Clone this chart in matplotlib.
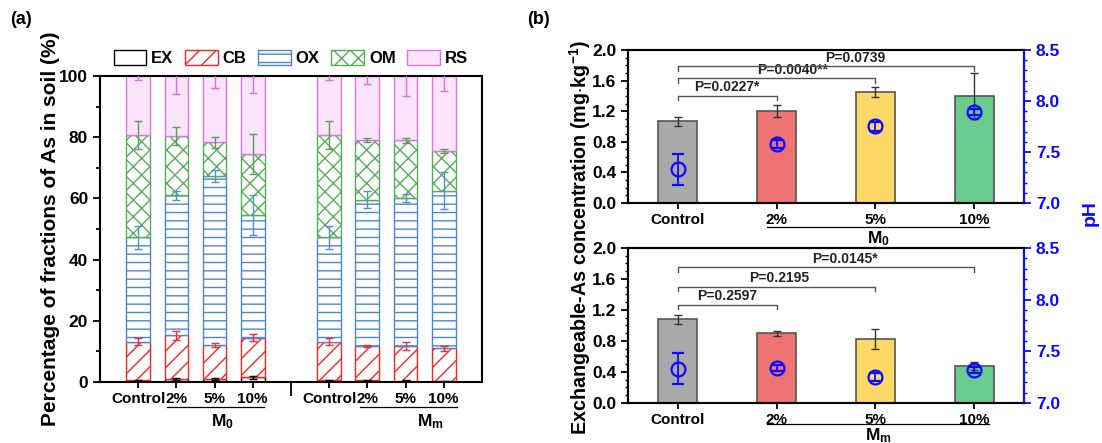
import numpy as np
import matplotlib
matplotlib.use('Agg')
import matplotlib.pyplot as plt
from matplotlib.patches import Patch
from matplotlib.ticker import MultipleLocator, FixedLocator

plt.rcParams['font.family'] = ['Liberation Sans', 'DejaVu Sans']
plt.rcParams['font.weight'] = 'bold'
plt.rcParams['axes.labelweight'] = 'bold'
plt.rcParams['mathtext.fontset'] = 'custom'
plt.rcParams['mathtext.rm'] = 'Liberation Sans:bold'
plt.rcParams['mathtext.it'] = 'Liberation Sans:bold'
plt.rcParams['mathtext.bf'] = 'Liberation Sans:bold'
plt.rcParams['hatch.linewidth'] = 1.0
plt.rcParams['axes.linewidth'] = 1.5

cats = ['Control', '2%', '5%', '10%']
fracs = ['EX', 'CB', 'OX', 'OM', 'RS']

# (a) share of each As fraction (%), M0 group then Mm group
ex_m0 = [0.5, 1.0, 1.0, 1.5]
cb_m0 = [12.7, 14.2, 11.2, 13.0]
ox_m0 = [34.1, 45.8, 55.1, 40.0]
om_m0 = [33.4, 19.5, 11.0, 20.1]
rs_m0 = [19.3, 19.5, 21.7, 25.4]

ex_mm = [0.5, 0.5, 0.3, 0.2]
cb_mm = [12.7, 11.2, 11.5, 10.8]
ox_mm = [34.1, 47.9, 48.3, 51.5]
om_mm = [33.4, 19.4, 18.9, 13.0]
rs_mm = [19.3, 21.0, 21.0, 24.5]

# error bars
ex_m0_err = [0.3, 0.2, 0.2, 0.4]
cb_m0_err = [1.2, 1.5, 0.6, 1.2]
ox_m0_err = [3.7, 1.5, 2.0, 6.5]
om_m0_err = [4.5, 3.0, 1.7, 6.5]
rs_m0_err = [1.3, 6.0, 4.0, 5.5]

ex_mm_err = [0.3, 0.2, 0.2, 0.1]
cb_mm_err = [1.2, 0.3, 1.2, 0.8]
ox_mm_err = [3.7, 2.8, 1.3, 6.0]
om_mm_err = [4.5, 0.6, 0.8, 0.8]
rs_mm_err = [1.3, 2.5, 6.5, 5.0]

# (b) exchangeable As (mg/kg) and pH
exas_m0 = [1.07, 1.20, 1.45, 1.40]
exas_m0_err = [0.06, 0.08, 0.07, 0.30]
ph_m0 = [7.33, 7.58, 7.75, 7.89]
ph_m0_err = [0.15, 0.04, 0.04, 0.03]
p_m0 = ['P=0.0227*', 'P=0.0040**', 'P=0.0739']

exas_mm = [1.08, 0.90, 0.83, 0.48]
exas_mm_err = [0.06, 0.03, 0.13, 0.05]
ph_mm = [7.33, 7.34, 7.25, 7.32]
ph_mm_err = [0.15, 0.03, 0.04, 0.03]
p_mm = ['P=0.2597', 'P=0.2195', 'P=0.0145*']

fig = plt.figure(figsize=(11.02, 4.43), dpi=100)

# ---------------- panel (a)
ax = fig.add_axes([0.0907, 0.1377, 0.3466, 0.6907])

face = {'EX': 'white', 'CB': 'white', 'OX': 'white', 'OM': 'white', 'RS': '#fbe4fb'}
edge = {'EX': 'black', 'CB': '#ff2424', 'OX': '#4f86d1', 'OM': '#57ad57', 'RS': '#df72ec'}
hatch = {'EX': None, 'CB': '//', 'OX': '--', 'OM': 'xx', 'RS': None}
ecol = {'EX': 'black', 'CB': '#e83030', 'OX': '#5a8cc8', 'OM': '#5a9a5a', 'RS': '#d470e0'}

groups = [
    ([1, 2, 3, 4], [ex_m0, cb_m0, ox_m0, om_m0, rs_m0],
     [ex_m0_err, cb_m0_err, ox_m0_err, om_m0_err, rs_m0_err]),
    ([6, 7, 8, 9], [ex_mm, cb_mm, ox_mm, om_mm, rs_mm],
     [ex_mm_err, cb_mm_err, ox_mm_err, om_mm_err, rs_mm_err]),
]
bw = 0.62
for xs, vals, errs in groups:
    bottom = np.zeros(4)
    for f, v, e in zip(fracs, vals, errs):
        v = np.array(v)
        ax.bar(xs, v, bw, bottom=bottom, facecolor=face[f], edgecolor=edge[f],
               hatch=hatch[f], linewidth=1.0, zorder=2)
        ax.errorbar(xs, bottom + v, yerr=e, fmt='none', ecolor=ecol[f],
                    elinewidth=1.0, capsize=3, capthick=1.0, zorder=4)
        bottom = bottom + v

ax.set_xlim(0, 10)
ax.set_ylim(0, 100)
ax.set_xticks([1, 2, 3, 4, 6, 7, 8, 9])
ax.set_xticklabels(cats + cats, fontsize=11)
ax.xaxis.set_minor_locator(FixedLocator([5]))
ax.tick_params(axis='x', which='major', direction='out', length=4, width=1.3, pad=3)
ax.tick_params(axis='x', which='minor', direction='out', length=10, width=1.3)
ax.set_yticks(np.arange(0, 101, 20))
ax.yaxis.set_minor_locator(MultipleLocator(10))
ax.tick_params(axis='y', which='major', direction='out', length=5, width=1.3, labelsize=12.5)
ax.tick_params(axis='y', which='minor', direction='out', length=3, width=1.3)
fig.text(0.046, 0.483, 'Percentage of fractions of As in soil (%)', rotation=90,
         ha='center', va='center', fontsize=15)

for x0, x1, xt, lab in [(1.76, 4.29, 3.2, r'$\mathbf{M_0}$'), (6.8, 9.34, 8.65, r'$\mathbf{M_m}$')]:
    ax.plot([x0, x1], [-0.082, -0.082], color='black', lw=0.9,
            transform=ax.get_xaxis_transform(), clip_on=False)
    ax.text(xt, -0.13, lab, transform=ax.get_xaxis_transform(), ha='center',
            va='center', fontsize=12.5)

handles = [Patch(facecolor=face[f], edgecolor=edge[f], hatch=hatch[f], label=f) for f in fracs]
ax.legend(handles=handles, loc='lower center', bbox_to_anchor=(0.5, 1.0), ncol=5,
          frameon=False, fontsize=12, handlelength=1.95, handleheight=1.0,
          columnspacing=0.7, handletextpad=0.3, borderaxespad=0.2)

fig.text(0.009, 0.955, '(a)', fontsize=13, va='center')
fig.text(0.478, 0.955, '(b)', fontsize=13, va='center')

# ---------------- panel (b)
bar_cols = ['#a9a9a9', '#f07373', '#ffd968', '#6acb8e']


def panel_b(rect, vals, errs, ph, pherr, ptxt, plines, ptx, uline_y, glab, glab_y):
    ax = fig.add_axes(rect)
    x = np.arange(1, 5)
    ax.bar(x, vals, 0.4, color=bar_cols, edgecolor='#555555', linewidth=1.2, zorder=2)
    ax.errorbar(x, vals, yerr=errs, fmt='none', ecolor='#333333', elinewidth=1.0,
                capsize=3, capthick=1.0, zorder=3)
    ax.set_xlim(0.5, 4.5)
    ax.set_ylim(0, 2.0)
    ax.set_xticks(x)
    ax.set_xticklabels(cats, fontsize=11)
    ax.set_yticks(np.arange(0, 2.01, 0.4))
    ax.set_yticklabels(['%.1f' % t for t in np.arange(0, 2.01, 0.4)])
    ax.yaxis.set_minor_locator(MultipleLocator(0.1))
    ax.tick_params(axis='x', direction='out', length=4, width=1.3, pad=3)
    ax.tick_params(axis='y', which='major', direction='out', length=5, width=1.3, labelsize=12.5)
    ax.tick_params(axis='y', which='minor', direction='out', length=2.5, width=1.0)

    for i, (yl, txt, xt) in enumerate(zip(plines, ptxt, ptx)):
        xr = i + 2
        ax.plot([1, 1, xr, xr], [yl - 0.06, yl, yl, yl - 0.06], color='#555555',
                lw=1.0, zorder=3)
        ax.text(xt, yl + 0.02, txt, ha='center', va='bottom', fontsize=10, color='#222222')

    ax.plot([1.9, 4.15], [uline_y, uline_y], color='black', lw=0.9,
            transform=ax.get_xaxis_transform(), clip_on=False)
    ax.text(3.03, glab_y, glab, transform=ax.get_xaxis_transform(), ha='center',
            va='center', fontsize=12.5)

    a2 = ax.twinx()
    a2.errorbar(x, ph, yerr=pherr, fmt='o', mfc='none', mec='#0a0aff', color='#0a0aff',
                ms=10, mew=1.6, elinewidth=1.3, capsize=4, capthick=1.3, zorder=5)
    a2.set_ylim(7.0, 8.5)
    a2.set_yticks([7.0, 7.5, 8.0, 8.5])
    a2.yaxis.set_minor_locator(MultipleLocator(0.1))
    a2.tick_params(axis='y', which='major', direction='out', length=5, width=1.3,
                   labelsize=12.5, colors='#0a0aff')
    a2.tick_params(axis='y', which='minor', direction='out', length=2.5, width=1.0,
                   colors='#0a0aff')
    a2.spines['right'].set_color('#0a0aff')
    return ax, a2


panel_b([0.5699, 0.5418, 0.3593, 0.3454], exas_m0, exas_m0_err, ph_m0, ph_m0_err,
        p_m0, [1.40, 1.63, 1.79], [1.5, 2.16, 2.8], -0.157, r'$\mathbf{M_0}$', -0.23)
panel_b([0.5699, 0.0903, 0.3593, 0.3499], exas_mm, exas_mm_err, ph_mm, ph_mm_err,
        p_mm, [1.27, 1.50, 1.75], [1.5, 2.03, 2.69], -0.135, r'$\mathbf{M_m}$', -0.21)

fig.text(0.5265, 0.463, r'Exchangeable-As concentration (mg$\cdot$kg$^{\mathbf{-1}}$)',
         rotation=90, ha='center', va='center', fontsize=14.2)
fig.text(0.989, 0.52, 'pH', rotation=90, ha='center', va='center', fontsize=14,
         color='#0a0aff')

fig.savefig('out.png', dpi=100)
